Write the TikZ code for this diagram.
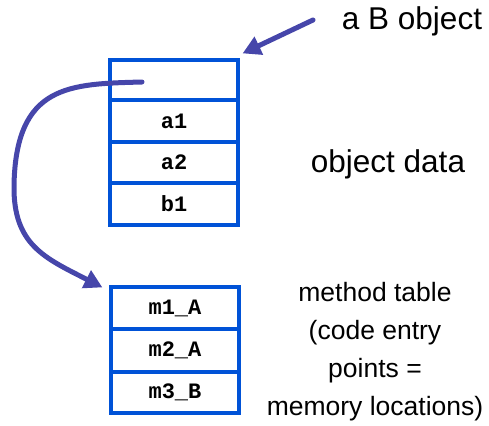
\documentclass[tikz,border=0pt]{standalone}
\usepackage{fontspec}
\setmainfont{Liberation Sans}
\newfontfamily\cellfont{Liberation Mono}
\usetikzlibrary{arrows.meta}
\definecolor{boxblue}{RGB}{0,82,215}
\definecolor{arrowblue}{RGB}{70,70,170}
\tikzset{
  cell/.style={draw=boxblue, line width=3.2pt, minimum width=128pt, inner sep=0pt,
    font=\cellfont\bfseries\fontsize{22}{24}\selectfont},
  ptrarrow/.style={draw=arrowblue, line width=5pt, line cap=round,
    -{Triangle[length=18pt,width=19pt]}},
  biglabel/.style={font=\fontsize{31.5}{36}\selectfont, inner sep=0pt},
  smalllabel/.style={font=\fontsize{26.5}{38}\selectfont, inner sep=0pt, align=center}
}
\begin{document}
\begin{tikzpicture}[x=1pt,y=-1pt]
\useasboundingbox (0,0) rectangle (489,425);
% object data cells
\node[cell, minimum height=40pt] (o0) at (174,80) {};
\node[cell, minimum height=42pt] (o1) at (174,121) {a1};
\node[cell, minimum height=41pt] (o2) at (174,162.5) {a2};
\node[cell, minimum height=42pt] (o3) at (174,204) {b1};
% method table cells
\node[cell, minimum height=42pt] (m1) at (175,308) {m1\_A};
\node[cell, minimum height=43pt] (m2) at (175,350.5) {m2\_A};
\node[cell, minimum height=41pt] (m3) at (175,392.5) {m3\_B};
% labels
\node[biglabel, anchor=base] (lb) at (412,30) {a B object};
\node[biglabel, anchor=base] (ld) at (388,172) {object data};
\node[smalllabel, anchor=base] (lm) at (375,415) {method table\\(code entry\\points =\\memory locations)};
% arrows
\coordinate (src) at (313,20);
\draw[ptrarrow] (src) -- ([xshift=3pt,yshift=5pt]o0.north east);
\coordinate (ptr) at (142,82);
\draw[ptrarrow] (ptr) .. controls (70,84) and (16,84) .. (14,185)
  .. controls (13,245) and (45,258) .. ([xshift=-7pt,yshift=-2pt]m1.north west);
\end{tikzpicture}
\end{document}
